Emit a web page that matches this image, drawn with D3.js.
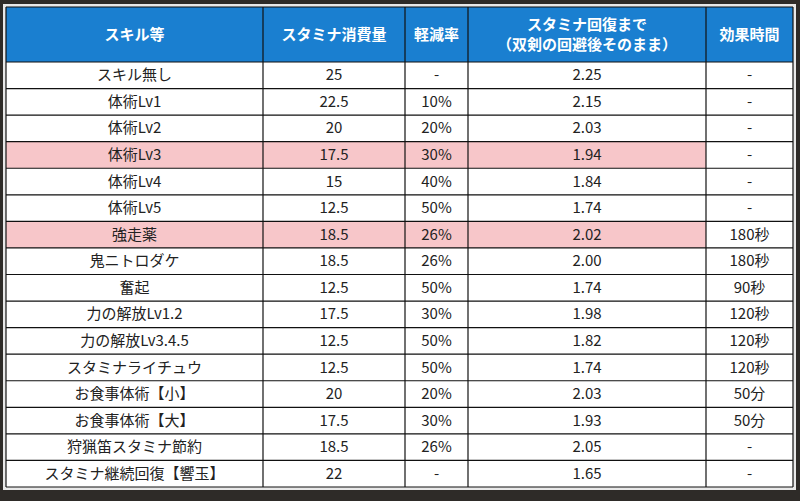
<!DOCTYPE html>
<html><head><meta charset="utf-8">
<script src="https://cdn.jsdelivr.net/npm/d3@7"></script>
<style>body{margin:0;background:#2e2b28;}svg{display:block;}</style>
</head><body>
<script>
const headers = ["スキル等","スタミナ消費量","軽減率","スタミナ回復まで\n（双剣の回避後そのまま）","効果時間"];
const skills = ["スキル無し","体術Lv1","体術Lv2","体術Lv3","体術Lv4","体術Lv5","強走薬","鬼ニトロダケ","奮起","力の解放Lv1.2","力の解放Lv3.4.5","スタミナライチュウ","お食事体術【小】","お食事体術【大】","狩猟笛スタミナ節約","スタミナ継続回復【響玉】"];
const consumption = ["25","22.5","20","17.5","15","12.5","18.5","18.5","12.5","17.5","12.5","12.5","20","17.5","18.5","22"];
const reduction = ["-","10%","20%","30%","40%","50%","26%","26%","50%","30%","50%","50%","20%","30%","26%","-"];
const recovery = ["2.25","2.15","2.03","1.94","1.84","1.74","2.02","2.00","1.74","1.98","1.82","1.74","2.03","1.93","2.05","1.65"];
const duration = ["-","-","-","-","-","-","180秒","180秒","90秒","120秒","120秒","120秒","50分","50分","-","-"];
const highlighted = ["体術Lv3","強走薬"];

(function(){
const W=800,H=501;
const svg=d3.select("body").append("svg").attr("width",W).attr("height",H);
svg.append("rect").attr("width",W).attr("height",H).attr("fill","#2e2b28");
const colEdges=[6,263,405,468,706,793];
const x0=colEdges[0],x1=colEdges[5],tY=7,headH=55,bY=487;
const rowY=d3.scaleBand().domain(d3.range(skills.length)).range([tY+headH,bY]);
svg.append("rect").attr("x",x0-3).attr("y",tY-3).attr("width",x1-x0+6).attr("height",bY-tY+6).attr("fill","#e8e8e8");
svg.append("rect").attr("x",x0).attr("y",tY).attr("width",x1-x0).attr("height",headH).attr("fill","#1a7fd0");
const cols=[skills,consumption,reduction,recovery,duration];
const font="'Noto Sans CJK JP','Noto Sans',sans-serif";
skills.forEach((s,i)=>{
  const y=rowY(i),h=rowY.bandwidth();
  const hl=highlighted.includes(s);
  svg.append("rect").attr("x",x0).attr("y",y).attr("width",x1-x0).attr("height",h).attr("fill","#fff");
  if(hl) svg.append("rect").attr("x",x0).attr("y",y).attr("width",colEdges[4]-x0).attr("height",h).attr("fill","#f7c6c9");
  cols.forEach((c,j)=>{
    svg.append("text").attr("x",(colEdges[j]+colEdges[j+1])/2).attr("y",y+h/2+1)
      .attr("text-anchor","middle").attr("dominant-baseline","middle")
      .attr("font-family",font).attr("font-size",15).attr("fill","#222").text(c[i]);
  });
});
headers.forEach((t,j)=>{
  const lines=t.split("\n");
  const cx=(colEdges[j]+colEdges[j+1])/2;
  lines.forEach((l,k)=>{
    svg.append("text").attr("x",cx).attr("y",tY+headH/2+(k-(lines.length-1)/2)*20+1)
      .attr("text-anchor","middle").attr("dominant-baseline","middle")
      .attr("font-family",font).attr("font-weight","bold").attr("font-size",15).attr("fill","#fff").text(l);
  });
});
const g=svg.append("g").attr("stroke","#111").attr("stroke-width",1.2);
d3.range(skills.length+1).forEach(i=>{
  const y=i<skills.length?rowY(i):bY;
  g.append("line").attr("x1",x0).attr("x2",x1).attr("y1",y).attr("y2",y);
});
colEdges.forEach(x=>g.append("line").attr("x1",x).attr("x2",x).attr("y1",tY).attr("y2",bY));
g.append("line").attr("x1",x0).attr("x2",x1).attr("y1",tY).attr("y2",tY);
})();
</script>
</body></html>
